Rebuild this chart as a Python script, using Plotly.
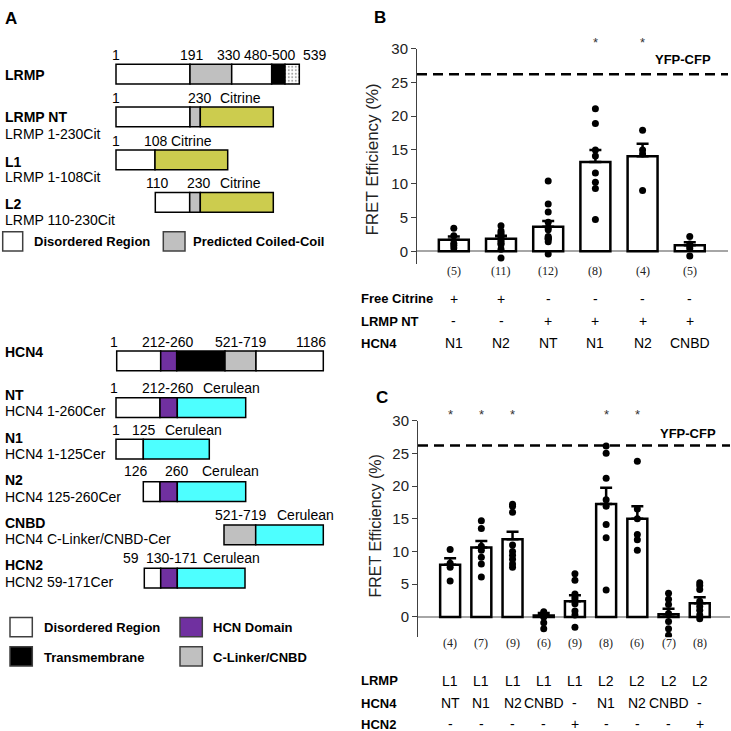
import plotly.graph_objects as go

W = H = 731
SANS = "Liberation Sans, Arial, sans-serif"
SERIF = "Liberation Serif, Times New Roman, serif"

# ---------------- Panel B data ----------------
b_cats = ["N1", "N2", "NT", "N1", "N2", "CNBD"]
b_means = [1.7, 1.85, 3.65, 13.2, 14.05, 0.88]
b_sem = [0.5, 0.45, 0.85, 1.8, 1.85, 0.45]
b_n = [5, 11, 12, 8, 4, 5]
b_points = [
    [3.4, 2.3, 1.2, 0.9, 0.5],
    [3.8, 3.0, 2.7, 2.4, 2.1, 1.8, 1.5, 1.2, 1.0, 0.3, -1.0],
    [10.4, 7.0, 5.8, 4.3, 3.5, 3.2, 2.2, 2.0, 1.9, 1.8, 1.4, -0.4],
    [21.1, 18.9, 15.0, 14.1, 11.6, 10.2, 9.3, 4.7],
    [17.9, 15.0, 14.4, 9.0],
    [2.2, 1.1, 0.8, 0.4, -0.7],
]
b_sig = [False, False, False, True, True, False]
b_row_names = ["Free Citrine", "LRMP NT", "HCN4"]
b_rows = [
    ["+", "+", "-", "-", "-", "-"],
    ["-", "-", "+", "+", "+", "+"],
    ["N1", "N2", "NT", "N1", "N2", "CNBD"],
]

# ---------------- Panel C data ----------------
c_means = [7.97, 10.6, 11.85, 0.2, 2.4, 17.25, 15.0, 0.4, 2.1]
c_sem = [1.0, 1.0, 1.15, 0.4, 0.9, 2.5, 1.9, 0.85, 0.9]
c_n = [4, 7, 9, 6, 9, 8, 6, 7, 8]
c_points = [
    [10.3, 8.2, 7.6, 5.5],
    [14.7, 13.5, 10.8, 10.2, 9.1, 8.1, 6.1],
    [17.2, 16.9, 16.0, 11.0, 10.0, 9.4, 8.8, 8.1, 7.6],
    [0.8, 0.5, 0.2, 0.0, -0.9, -1.8],
    [6.6, 5.6, 3.5, 3.0, 2.6, 2.0, 0.9, 0.3, -1.6],
    [26.1, 25.0, 21.2, 17.9, 16.9, 14.1, 12.1, 4.1],
    [23.8, 16.5, 15.0, 12.6, 11.8, 10.2],
    [3.6, 2.7, 1.9, 0.5, -0.7, -1.8, -2.8],
    [5.2, 4.8, 4.2, 2.4, 1.6, 1.0, 0.3, -0.3],
]
c_sig = [True, True, True, False, False, True, True, False, False]
c_row_names = ["LRMP", "HCN4", "HCN2"]
c_rows = [
    ["L1", "L1", "L1", "L1", "L1", "L2", "L2", "L2", "L2"],
    ["NT", "N1", "N2", "CNBD", "-", "N1", "N2", "CNBD", "-"],
    ["-", "-", "-", "-", "+", "-", "-", "-", "+"],
]
yfp_cfp = 26.2

# ---------------- Panel A schematic (diagram layout, pixel units) ----------------
WHITE, GRAY, BLACK, CIT, CER, PUR = "white", "#c0c0c0", "black", "#cccc4e", "#4dffff", "#7030a0"
constructs = [
    # (y centre, [(x0, x1, colour)])
    (66, [(116, 190, WHITE), (190, 231.7, GRAY), (231.7, 271.7, WHITE), (271.7, 285, BLACK), (285, 299.3, "dots")]),
    (109.2, [(116, 190, WHITE), (190, 200.3, GRAY), (200.3, 273.3, CIT)]),
    (152.7, [(116, 155, WHITE), (155, 227.7, CIT)]),
    (195.7, [(155.3, 189.7, WHITE), (189.7, 200.3, GRAY), (200.3, 273.3, CIT)]),
    (356.3, [(116.7, 160.7, WHITE), (160.7, 176.7, PUR), (176.7, 225, BLACK), (225, 256, GRAY), (256, 323.3, WHITE)]),
    (403.7, [(116, 160, WHITE), (160, 177.3, PUR), (177.3, 245.7, CER)]),
    (445.7, [(116, 143.3, WHITE), (143.3, 209.3, CER)]),
    (488.7, [(143.3, 160, WHITE), (160, 177.3, PUR), (177.3, 245.7, CER)]),
    (532.5, [(224, 255.7, GRAY), (255.7, 323.3, CER)]),
    (576.3, [(144.3, 160.7, WHITE), (160.7, 177.3, PUR), (177.3, 245, CER)]),
]
legend_boxes = [
    (2.7, 22.7, 235.2, WHITE), (163.3, 185, 235.2, GRAY),
    (10, 32.3, 625.8, WHITE), (180, 202.3, 625.8, PUR),
    (10, 32.3, 655.5, BLACK), (180, 202.3, 655.5, GRAY),
]
# residue labels: (text, x, y)
residue_labels = [
    ("1", 115.5, 46.7), ("191", 191.5, 46.7), ("330", 228.7, 46.7), ("480-500", 270, 46.7), ("539", 315, 46.7),
    ("1", 115.5, 90), ("230", 200.3, 90), ("Citrine", 240, 90),
    ("1", 115.5, 133.3), ("108", 156, 133.3), ("Citrine", 191.7, 133.3),
    ("110", 157.5, 176), ("230", 199, 176), ("Citrine", 240, 176),
    ("1", 114.3, 336.7), ("212-260", 167.8, 336.7), ("521-719", 241, 336.7), ("1186", 311, 336.7),
    ("1", 114.3, 383.3), ("212-260", 167.8, 383.3), ("Cerulean", 231.7, 383.3),
    ("1", 115.7, 426), ("125", 144.3, 426), ("Cerulean", 193.2, 426),
    ("126", 136, 467.3), ("260", 176.7, 467.3), ("Cerulean", 230, 467.3),
    ("521-719", 240.7, 512.7), ("Cerulean", 305, 512.7),
    ("59", 131, 556), ("130-171", 171.7, 556), ("Cerulean", 231.7, 556),
]
name_labels = [
    ("LRMP", None, 66.5, None),
    ("LRMP NT", "LRMP 1-230Cit", 109, 126.5),
    ("L1", "LRMP 1-108Cit", 155, 170),
    ("L2", "LRMP 110-230Cit", 197.5, 214),
    ("HCN4", None, 347, None),
    ("NT", "HCN4 1-260Cer", 391, 407),
    ("N1", "HCN4 1-125Cer", 434, 451),
    ("N2", "HCN4 125-260Cer", 477, 494),
    ("CNBD", "HCN4 C-Linker/CNBD-Cer", 520, 537),
    ("HCN2", "HCN2 59-171Cer", 563, 580.5),
]
legend_labels = [
    ("Disordered Region", 32.3, 235.2), ("Predicted Coiled-Coil", 191, 235.2),
    ("Disordered Region", 41.7, 626.5), ("HCN Domain", 211, 626.5),
    ("Transmembrane", 41.7, 656.5), ("C-Linker/CNBD", 211, 656.5),
]


def px(x):
    return x / W


def py(y):
    return 1 - y / H


fig = go.Figure()

# ---- schematic bars ----
seg_y, seg_len, seg_base, seg_col, seg_pat = [], [], [], [], []
for yc, segs in constructs:
    for x0, x1, col in segs:
        seg_y.append(yc)
        seg_base.append(x0)
        seg_len.append(x1 - x0)
        seg_col.append("white" if col == "dots" else col)
        seg_pat.append("." if col == "dots" else "")
fig.add_trace(go.Bar(
    x=seg_len, y=seg_y, base=seg_base, orientation="h", width=20,
    marker=dict(color=seg_col, line=dict(color="black", width=1.5),
                pattern=dict(shape=seg_pat, fgcolor="#333", bgcolor="white", size=3.5, solidity=0.25)),
    xaxis="x3", yaxis="y3", showlegend=False, hoverinfo="skip",
))
fig.add_trace(go.Bar(
    x=[b[1] - b[0] for b in legend_boxes], y=[b[2] for b in legend_boxes],
    base=[b[0] for b in legend_boxes], orientation="h", width=19.5,
    marker=dict(color=[b[3] for b in legend_boxes], line=dict(color="#404040", width=1.5)),
    xaxis="x3", yaxis="y3", showlegend=False, hoverinfo="skip",
))

# ---- Panel B ----
bx = list(range(len(b_means)))
fig.add_trace(go.Bar(
    x=bx, y=b_means, width=0.635,
    marker=dict(color="white", line=dict(color="black", width=2.5)),
    error_y=dict(type="data", symmetric=False, array=b_sem, arrayminus=[0] * len(b_sem),
                 color="black", thickness=2.5, width=6),
    xaxis="x", yaxis="y", showlegend=False,
))
px_b, py_b = [], []
for i, pts in enumerate(b_points):
    px_b += [i] * len(pts)
    py_b += pts
fig.add_trace(go.Scatter(x=px_b, y=py_b, mode="markers", marker=dict(color="black", size=7),
                         xaxis="x", yaxis="y", showlegend=False))

# ---- Panel C ----
cx = list(range(len(c_means)))
fig.add_trace(go.Bar(
    x=cx, y=c_means, width=0.64,
    marker=dict(color="white", line=dict(color="black", width=2.5)),
    error_y=dict(type="data", symmetric=False, array=c_sem, arrayminus=[0] * len(c_sem),
                 color="black", thickness=2.5, width=6),
    xaxis="x2", yaxis="y2", showlegend=False,
))
px_c, py_c = [], []
for i, pts in enumerate(c_points):
    px_c += [i] * len(pts)
    py_c += pts
fig.add_trace(go.Scatter(x=px_c, y=py_c, mode="markers", marker=dict(color="black", size=7),
                         xaxis="x2", yaxis="y2", showlegend=False))

yax_common = dict(
    tickvals=[0, 5, 10, 15, 20, 25, 30], ticks="outside", ticklen=5, tickcolor="#404040",
    showline=True, linecolor="#404040", linewidth=1, showgrid=False,
    zeroline=True, zerolinecolor="#a6a6a6", zerolinewidth=1.5,
    tickfont=dict(family=SANS, size=15, color="#222"), fixedrange=True,
)
xax_common = dict(visible=False, showgrid=False, zeroline=False, fixedrange=True)

fig.update_layout(
    width=W, height=H, margin=dict(l=0, r=0, t=0, b=0),
    paper_bgcolor="white", plot_bgcolor="rgba(0,0,0,0)", barmode="overlay",
    font=dict(family=SANS, color="black"),
    xaxis=dict(domain=[px(417), px(728)], range=[-0.78, 5.81], anchor="y", **xax_common),
    yaxis=dict(domain=[py(258), py(40)], range=[-1.85, 30], anchor="x", **yax_common),
    xaxis2=dict(domain=[px(418), px(730)], range=[-1.03, 8.97], anchor="y2", **xax_common),
    yaxis2=dict(domain=[py(636), py(416.7)], range=[-3.1, 30], anchor="x2", **yax_common),
    xaxis3=dict(domain=[0, 1], range=[0, W], anchor="y3", **xax_common),
    yaxis3=dict(domain=[0, 1], range=[H, 0], anchor="x3", visible=False, fixedrange=True),
)

shapes = []
for ax in ["", "2"]:
    shapes.append(dict(type="line", xref=f"x{ax} domain", yref=f"y{ax}", x0=0, x1=1, y0=yfp_cfp, y1=yfp_cfp,
                       line=dict(color="black", width=2.5, dash="10px,6px")))
fig.update_layout(shapes=shapes)

ann = []


def add(text, x, y, xref="paper", yref="paper", size=14, bold=False, xanchor="center", family=SANS,
        color="black", angle=0):
    ann.append(dict(text=f"<b>{text}</b>" if bold else text, x=x, y=y, xref=xref, yref=yref,
                    showarrow=False, xanchor=xanchor, yanchor="middle", textangle=angle,
                    font=dict(family=family, size=size, color=color)))


# panel letters
add("A", px(3), py(10), size=17, bold=True, xanchor="left")
add("B", px(372), py(9), size=17, bold=True, xanchor="left")
add("C", px(374), py(393.5), size=17, bold=True, xanchor="left")

# y titles
add("FRET Efficiency (%)", px(373), py(152.5), size=17, angle=-90, color="#222")
add("FRET Efficiency (%)", px(376), py(524), size=16, angle=-90, color="#222")

# YFP-CFP
add("YFP-CFP", px(713), py(50.7), size=13, bold=True, xanchor="right")
add("YFP-CFP", px(718), py(430), size=13, bold=True, xanchor="right")

# asterisks & n labels
for i, s in enumerate(b_sig):
    if s:
        add("*", i, py(34), xref="x", size=13, color="#333")
    add(f"({b_n[i]})", i, py(265.7), xref="x", size=12, family=SERIF, color="#222")
for i, s in enumerate(c_sig):
    if s:
        add("*", i, py(411), xref="x2", size=13, color="#333")
    add(f"({c_n[i]})", i, py(641.7), xref="x2", size=12, family=SERIF, color="#222")

# condition tables
for r, (name, vals) in enumerate(zip(b_row_names, b_rows)):
    yy = py([293.3, 316, 338.5][r])
    add(name, px(359), yy, size=13, bold=True, xanchor="left")
    for i, v in enumerate(vals):
        add(v, i, yy, xref="x", size=14)
for r, (name, vals) in enumerate(zip(c_row_names, c_rows)):
    yy = py([680, 702.7, 724][r])
    add(name, px(359), yy, size=13, bold=True, xanchor="left")
    for i, v in enumerate(vals):
        add(v, i, yy, xref="x2", size=14)

# schematic labels
for t, x, y in residue_labels:
    add(t, x, y, xref="x3", yref="y3", size=14)
for name, sub, y1, y2 in name_labels:
    add(name, 3, y1, xref="x3", yref="y3", size=14, bold=True, xanchor="left")
    if sub:
        add(sub, 3, y2, xref="x3", yref="y3", size=14, xanchor="left")
for t, x, y in legend_labels:
    add(t, x, y, xref="x3", yref="y3", size=13, bold=True, xanchor="left")

fig.update_layout(annotations=ann)
fig.write_html("out.html", config={"displayModeBar": False},
               post_script="document.body.style.margin='0';document.body.style.overflow='hidden';")
